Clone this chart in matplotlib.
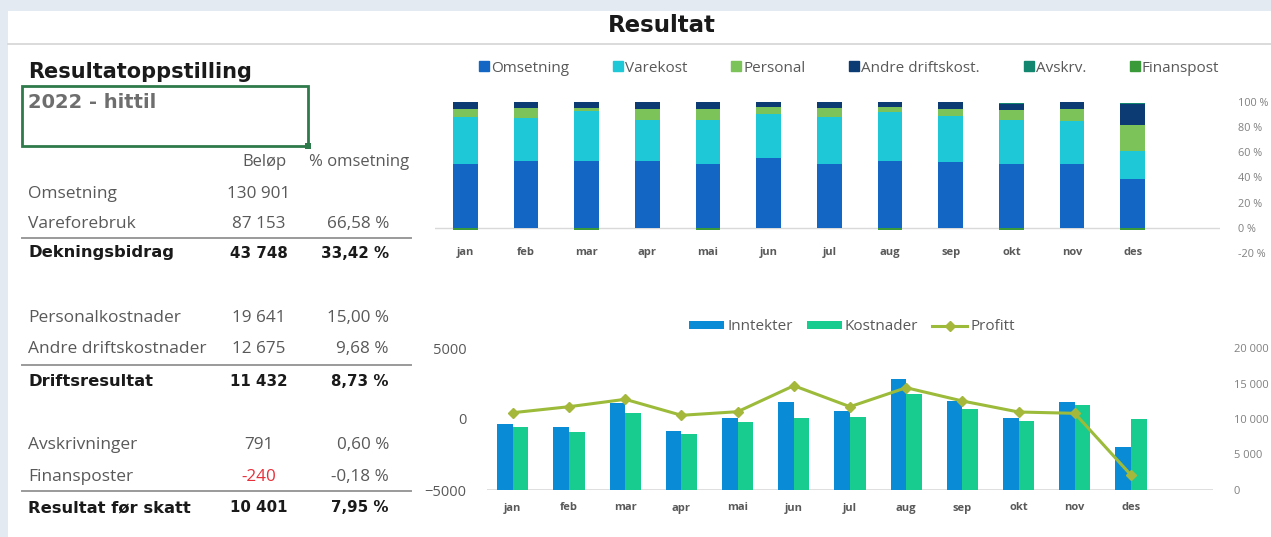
import matplotlib
matplotlib.use("Agg")
import matplotlib.pyplot as plt
from matplotlib.patches import Rectangle
from matplotlib.lines import Line2D
from matplotlib.ticker import FuncFormatter
import numpy as np

plt.rcParams['font.family'] = ['Open Sans', 'DejaVu Sans']

W, H = 1271, 537

# ---------------- data ----------------
months = ["jan", "feb", "mar", "apr", "mai", "jun", "jul", "aug", "sep", "okt", "nov", "des"]

# top chart: 100 % stacked shares (percent)
stack_names = ["Omsetning", "Varekost", "Personal", "Andre driftskost.", "Avskrv.", "Finanspost"]
oms_pct = [50.9, 52.8, 52.8, 52.8, 50.9, 55.0, 50.9, 53.1, 52.3, 50.9, 50.4, 38.9]
vare_pct = [37.0, 34.3, 39.7, 32.4, 34.8, 34.9, 36.7, 38.6, 36.7, 34.9, 34.0, 22.3]
pers_pct = [6.7, 8.0, 2.7, 9.4, 8.8, 6.2, 7.5, 4.3, 5.6, 7.5, 10.2, 20.6]
andre_pct = [5.1, 4.6, 4.5, 5.1, 5.1, 3.7, 4.5, 3.7, 5.1, 5.1, 5.1, 16.6]
avskr_pct = [0.3, 0.3, 0.3, 0.3, 0.3, 0.3, 0.3, 0.3, 0.3, 0.3, 0.3, 0.3]
finans_pct = [-1.5, 0.1, -1.5, 0.1, -1.5, 0.1, 0.1, -1.5, 0.1, -1.5, 0.1, -1.5]
top_yticks = [-20, 0, 20, 40, 60, 80, 100]

# bottom chart
inntekter = [9300, 8920, 12300, 8360, 10190, 12440, 11170, 15630, 12580, 10190, 12440, 6010]
kostnader = [8920, 8120, 10800, 7840, 9580, 10190, 10330, 13470, 11360, 9720, 11970, 10000]
profitt = [444, 866, 1387, 261, 514, 2345, 866, 2204, 1268, 493, 400, -3944]
bar_ticks = [0, 5000, 10000, 15000, 20000]
line_ticks = [-5000, 0, 5000]

# table
table_labels = ["Omsetning", "Vareforebruk", "Dekningsbidrag",
                "Personalkostnader", "Andre driftskostnader", "Driftsresultat",
                "Avskrivninger", "Finansposter", "Resultat før skatt"]
table_amounts = ["130 901", "87 153", "43 748", "19 641", "12 675", "11 432", "791", "-240", "10 401"]
table_pcts = ["", "66,58 %", "33,42 %", "15,00 %", "9,68 %", "8,73 %", "0,60 %", "-0,18 %", "7,95 %"]
table_bold = [False, False, True, False, False, True, False, False, True]

# ---------------- helpers ----------------
def fx(x):
    return x / W

def fy(y):
    return 1 - y / H

def axes_px(fig, left, top, right, bottom):
    return fig.add_axes([fx(left), fy(bottom), (right - left) / W, (bottom - top) / H])

BOLD = ['DejaVu Sans']

fig = plt.figure(figsize=(W / 100, H / 100), dpi=100)
fig.patch.set_facecolor("#e3eaf2")

# white card
bg = fig.add_axes([0, 0, 1, 1], zorder=-10)
bg.set_xlim(0, W)
bg.set_ylim(H, 0)
bg.axis("off")
bg.add_patch(Rectangle((8, 11), W - 8, H - 11, facecolor="white", edgecolor="none"))
bg.plot([8, W], [44, 44], color="#d4d4d4", lw=1.2)
# green selection box
bg.add_patch(Rectangle((22, 86), 286, 60, facecolor="none", edgecolor="#2f7a4a", lw=2))
bg.add_patch(Rectangle((305, 143), 6, 6, facecolor="#2f7a4a", edgecolor="none"))

fig.text(fx(662), fy(25), "Resultat", ha="center", va="center", fontsize=16.5,
         fontweight="bold", color="#1a1a1a", family=BOLD)

# ---------------- left table ----------------
fig.text(fx(28), fy(72), "Resultatoppstilling", ha="left", va="center", fontsize=15,
         fontweight="bold", color="#1a1a1a", family=BOLD)
fig.text(fx(28), fy(102), "2022 - hittil", ha="left", va="center", fontsize=14,
         fontweight="bold", color="#6e6e6e", family=BOLD)
fig.text(fx(286), fy(162), "Beløp", ha="right", va="center", fontsize=12, color="#595959")
fig.text(fx(359), fy(162), "% omsetning", ha="center", va="center", fontsize=12, color="#595959")

row_y = [194, 224, 253, 318, 349, 381, 445, 477, 508]
for lab, amt, pct, bold, yy in zip(table_labels, table_amounts, table_pcts, table_bold, row_y):
    if bold:
        kw = dict(color="#1a1a1a", fontweight="bold", family=BOLD)
        lab_size, num_size = 11.8, 10.8
    else:
        kw = dict(color="#595959", fontweight="normal")
        lab_size, num_size = 12.5, 12.3
    fig.text(fx(28), fy(yy), lab, ha="left", va="center", fontsize=lab_size, **kw)
    amt_kw = dict(kw)
    if amt.startswith("-"):
        amt_kw["color"] = "#e8303a"
    fig.text(fx(259), fy(yy), amt, ha="center", va="center", fontsize=num_size, **amt_kw)
    if pct:
        fig.text(fx(389), fy(yy), pct, ha="right", va="center", fontsize=num_size, **kw)

for yy in [238, 365, 491]:
    bg.plot([22, 411], [yy, yy], color="#9a9a9a", lw=1.4)

# ---------------- top stacked chart ----------------
stack_colors = ["#1466c4", "#1ec8d6", "#7cc359", "#0c3a72", "#12866f", "#3a9a3a"]
ax1 = axes_px(fig, 435, 101.7, 1220, 253)
x = np.arange(len(months))
series = [oms_pct, vare_pct, pers_pct, andre_pct, avskr_pct, finans_pct]
pos_base = np.zeros(len(months))
neg_base = np.zeros(len(months))
for name, vals, c in zip(stack_names, series, stack_colors):
    v = np.array(vals, dtype=float)
    base = np.where(v >= 0, pos_base, neg_base)
    ax1.bar(x, v, bottom=base, width=0.41, color=c, label=name, zorder=2)
    pos_base = pos_base + np.where(v >= 0, v, 0)
    neg_base = neg_base + np.where(v < 0, v, 0)
ax1.set_xlim(-0.5, 12.44)
ax1.set_ylim(-20, 100)
ax1.axhline(0, color="#d9d9d9", lw=1, zorder=1)
ax1.yaxis.tick_right()
ax1.set_yticks(top_yticks)
ax1.yaxis.set_major_formatter(FuncFormatter(lambda v, p: f"{int(v)} %"))
ax1.tick_params(axis="y", length=0, pad=13, labelsize=7.8, labelcolor="#808080")
ax1.set_xticks([])
for i, m in enumerate(months):
    ax1.text(i, -19.5, m, ha="center", va="center", fontsize=8, fontweight="bold", color="#595959")
for s in ax1.spines.values():
    s.set_visible(False)
ax1.patch.set_alpha(0)

handles = [Line2D([0], [0], marker="s", linestyle="none", markersize=6.5, markerfacecolor=c,
                  markeredgecolor=c) for c in stack_colors]
fig.legend(handles, stack_names, loc="center", bbox_to_anchor=(fx(849), fy(68)), ncol=6,
           frameon=False, fontsize=11, handletextpad=0.1, columnspacing=2.85,
           labelcolor="#595959", handlelength=0.7)

# ---------------- bottom chart ----------------
ax2 = axes_px(fig, 487, 348, 1213, 490)
bw = 0.277
b1 = ax2.bar(x - bw / 2, inntekter, width=bw, color="#0a8bd6", label="Inntekter", zorder=2)
b2 = ax2.bar(x + bw / 2, kostnader, width=bw, color="#17cc8e", label="Kostnader", zorder=2)
ax2.set_xlim(-0.46, 12.46)
ax2.set_ylim(0, 20000)
ax2.axhline(0, color="#d9d9d9", lw=1.2, zorder=1)
ax2.set_xticks(x)
ax2.set_xticklabels(months, fontsize=8, fontweight="bold", color="#595959")
ax2.tick_params(axis="x", length=0, pad=9)
for s in ax2.spines.values():
    s.set_visible(False)
ax2.patch.set_alpha(0)

ax3 = ax2.twinx()
ln, = ax3.plot(x, profitt, color="#9cbb3a", lw=2.2, marker="D", markersize=5.5,
               markerfacecolor="#a5b83c", markeredgecolor="#a5b83c", label="Profitt", zorder=3)
ax3.set_ylim(-5000, 5000)
ax3.yaxis.tick_left()
ax3.yaxis.set_label_position("left")
ax3.set_yticks(line_ticks)
ax3.tick_params(axis="y", length=0, pad=15, labelsize=10.5, labelcolor="#595959")
for s in ax3.spines.values():
    s.set_visible(False)

# bars' axis on the right (set after twinx, which resets tick sides)
ax2.yaxis.tick_right()
ax2.yaxis.set_label_position("right")
ax2.set_yticks(bar_ticks)
ax2.yaxis.set_major_formatter(FuncFormatter(lambda v, p: f"{int(v):,}".replace(",", " ")))
ax2.tick_params(axis="y", length=0, pad=15, labelsize=8, labelcolor="#808080")

fig.legend([b1, b2, ln], ["Inntekter", "Kostnader", "Profitt"], loc="center",
           bbox_to_anchor=(fx(852), fy(327)), ncol=3, frameon=False, fontsize=11,
           handlelength=2.3, handleheight=0.45, handletextpad=0.2, columnspacing=0.9,
           labelcolor="#595959")

fig.savefig("out.png", dpi=100, facecolor=fig.get_facecolor())
